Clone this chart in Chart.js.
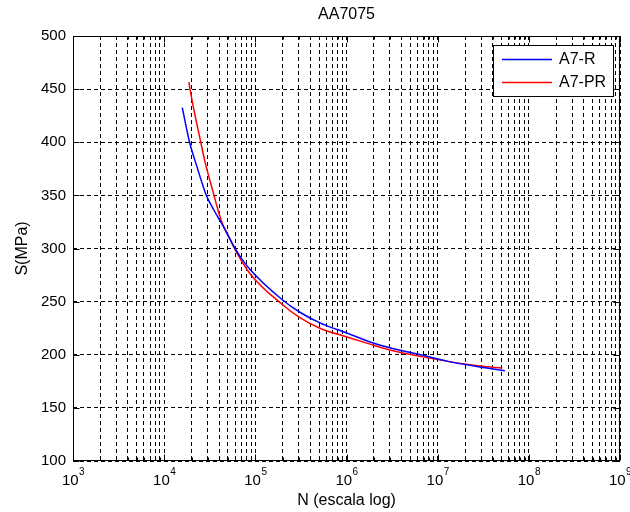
<!DOCTYPE html>
<html lang="es">
<head>
<meta charset="UTF-8">
<title>AA7075</title>
<script src="https://cdn.jsdelivr.net/npm/chart.js@4.4.1/dist/chart.umd.min.js"></script>
<style>
  html, body { margin: 0; padding: 0; background: #fff; }
  #wrap { width: 630px; height: 512px; }
</style>
</head>
<body>
<div id="wrap"><canvas id="snChart" width="630" height="512"></canvas></div>
<script>
  const titulo = 'AA7075';
  const etiquetaX = 'N (escala log)';
  const etiquetaY = 'S(MPa)';

  // Curva A7-R (azul)
  const ciclosR  = [1.58e4, 1.9e4, 2.27e4, 2.9e4, 3.52e4, 4.37e4, 6e4, 7e4, 8.8e4, 1.96e5, 3.08e5, 5.11e5, 1.01e6, 1.81e6, 2.99e6, 6.89e6, 1.26e7, 2.9e7, 5.46e7];
  const tensionR = [432.6, 400, 378, 350, 336, 322, 300, 291, 280, 252, 240, 230, 220.5, 212, 206.5, 199.5, 194, 188.5, 185];

  // Curva A7-PR (roja)
  const ciclosPR  = [1.87e4, 1.92e4, 2.52e4, 2.78e4, 3.52e4, 3.9e4, 4.37e4, 5e4, 6e4, 8.8e4, 1.96e5, 3.08e5, 5.11e5, 1.01e6, 1.81e6, 2.99e6, 6.89e6, 1.26e7, 2.9e7, 5.1e7];
  const tensionPR = [456.6, 450, 400, 383, 350, 336, 323, 313, 299, 276, 247.5, 235, 225, 216.7, 210, 204.5, 198, 194, 189.4, 187.5];

  // ejes
  const exponentesX = [3, 4, 5, 6, 7, 8, 9];
  const minY = 100, maxY = 500, pasoY = 50;

  const fuente = '"Liberation Sans", Arial, sans-serif';

  // grilla log: 1..9 x 10^k
  const ticksX = [];
  for (let e = exponentesX[0]; e < exponentesX[exponentesX.length - 1]; e++) {
    for (let m = 1; m < 10; m++) ticksX.push(m * Math.pow(10, e));
  }
  ticksX.push(Math.pow(10, exponentesX[exponentesX.length - 1]));

  const extras = {
    id: 'extras',
    afterDraw(chart) {
      const { ctx, chartArea: a, scales } = chart;
      ctx.save();
      ctx.setLineDash([]);
      ctx.strokeStyle = '#000';
      ctx.lineWidth = 1;
      const l = Math.round(a.left) + 0.5, t = Math.round(a.top) + 0.5;
      const r = Math.round(a.right) - 0.5, b = Math.round(a.bottom) - 0.5;
      ctx.strokeRect(l, t, r - l, b - t);

      // marcas hacia adentro
      ctx.beginPath();
      ticksX.forEach(v => {
        const px = Math.round(scales.x.getPixelForValue(v)) + 0.5;
        const mayor = Math.abs(Math.log10(v) - Math.round(Math.log10(v))) < 1e-9;
        const len = mayor ? 6 : 3;
        ctx.moveTo(px, b); ctx.lineTo(px, b - len);
        ctx.moveTo(px, t); ctx.lineTo(px, t + len);
      });
      for (let v = minY; v <= maxY; v += pasoY) {
        const py = Math.round(scales.y.getPixelForValue(v)) + 0.5;
        ctx.moveTo(l, py); ctx.lineTo(l + 6, py);
        ctx.moveTo(r, py); ctx.lineTo(r - 6, py);
      }
      ctx.stroke();

      ctx.fillStyle = '#000';
      ctx.textBaseline = 'middle';
      ctx.textAlign = 'center';
      ctx.font = '16px ' + fuente;
      const cx = (a.left + a.right) / 2;
      ctx.fillText(titulo, cx, 15);
      ctx.fillText(etiquetaX, cx, 501);

      ctx.save();
      ctx.translate(23, (a.top + a.bottom) / 2);
      ctx.rotate(-Math.PI / 2);
      ctx.fillText(etiquetaY, 0, 0);
      ctx.restore();

      // etiquetas 10^n
      ctx.textAlign = 'left';
      ctx.textBaseline = 'middle';
      exponentesX.forEach(e => {
        const px = scales.x.getPixelForValue(Math.pow(10, e));
        ctx.font = '15px ' + fuente;
        const w1 = ctx.measureText('10').width;
        ctx.font = '10px ' + fuente;
        const w2 = ctx.measureText(String(e)).width;
        const x0 = px - (w1 + w2) / 2;
        ctx.font = '15px ' + fuente;
        ctx.fillText('10', x0, 481);
        ctx.font = '10px ' + fuente;
        ctx.fillText(String(e), x0 + w1 + 0.5, 472);
      });

      // leyenda
      const lx = 493.5, ly = 45.5, lw = 120, lh = 51;
      ctx.fillStyle = '#fff';
      ctx.fillRect(lx, ly, lw, lh);
      ctx.strokeStyle = '#000';
      ctx.strokeRect(lx, ly, lw, lh);
      ctx.font = '16px ' + fuente;
      ctx.textBaseline = 'middle';
      ctx.lineWidth = 1.5;
      chart.data.datasets.forEach((ds, i) => {
        const y = 59.5 + i * 23;
        ctx.strokeStyle = ds.borderColor;
        ctx.beginPath();
        ctx.moveTo(502, y);
        ctx.lineTo(552, y);
        ctx.stroke();
        ctx.fillStyle = '#000';
        ctx.fillText(ds.label, 559, y);
      });
      ctx.restore();
    }
  };

  new Chart(document.getElementById('snChart'), {
    type: 'line',
    data: {
      datasets: [
        {
          label: 'A7-R',
          data: ciclosR.map((n, i) => ({ x: n, y: tensionR[i] })),
          borderColor: '#0000ff',
          borderWidth: 1.5,
          pointRadius: 0,
          cubicInterpolationMode: 'monotone'
        },
        {
          label: 'A7-PR',
          data: ciclosPR.map((n, i) => ({ x: n, y: tensionPR[i] })),
          borderColor: '#ff0000',
          borderWidth: 1.5,
          pointRadius: 0,
          cubicInterpolationMode: 'monotone'
        }
      ]
    },
    options: {
      responsive: false,
      animation: false,
      layout: { padding: { top: 36, right: 10, left: 0, bottom: 0 } },
      plugins: {
        legend: { display: false },
        title: { display: false },
        tooltip: { enabled: false }
      },
      scales: {
        x: {
          type: 'logarithmic',
          min: Math.pow(10, exponentesX[0]),
          max: Math.pow(10, exponentesX[exponentesX.length - 1]),
          afterBuildTicks: s => { s.ticks = ticksX.map(v => ({ value: v })); },
          afterFit: s => { s.height = 51; },
          ticks: { display: false, autoSkip: false },
          grid: { color: '#000', lineWidth: 1, drawTicks: false },
          border: { display: false, dash: [4, 3] }
        },
        y: {
          min: minY,
          max: maxY,
          afterFit: s => { s.width = 73; },
          ticks: {
            stepSize: pasoY,
            color: '#000',
            padding: 7,
            font: { family: fuente, size: 15 }
          },
          grid: { color: '#000', lineWidth: 1, drawTicks: false },
          border: { display: false, dash: [4, 3] }
        }
      }
    },
    plugins: [extras]
  });
</script>
</body>
</html>
